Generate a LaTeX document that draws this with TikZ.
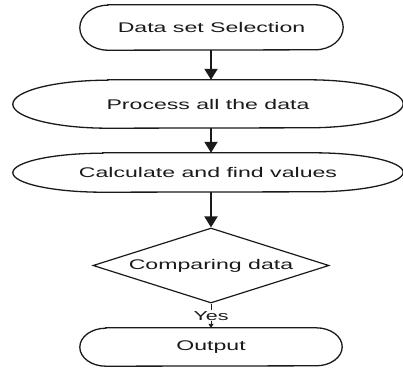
\documentclass[tikz,border=0pt]{standalone}
\usepackage{fontspec}
\usetikzlibrary{arrows.meta,shapes.geometric}
\newfontfamily\labelfont[FakeStretch=1.65]{Liberation Sans}
\definecolor{ink}{HTML}{1A1A1A}

% terminator outline: straight top and bottom, elliptical ends
\newcommand\stadium[3]{%
  \draw[outline] ([xshift=#2]#1.north west) -- ([xshift=-#2]#1.north east)
    arc[start angle=90,end angle=-90,x radius=#2,y radius=#3]
    -- ([xshift=#2]#1.south west)
    arc[start angle=270,end angle=90,x radius=#2,y radius=#3] -- cycle;}

\begin{document}
\begin{tikzpicture}[x=1pt,y=1pt,
  outline/.style={draw=ink,line width=1.3pt},
  term/.style={rectangle,inner sep=0pt,text=ink,font=\labelfont\fontsize{14}{16}\selectfont},
  decision/.style={diamond,aspect=3.15,draw=ink,line width=1.2pt,inner sep=0pt,text=ink,
    font=\labelfont\fontsize{14}{16}\selectfont},
  flow/.style={draw=ink,line width=2pt,-{Triangle[width=13pt,length=11pt]}},
  thin flow/.style={draw=ink,line width=0.9pt,-{Triangle[width=5pt,length=4pt]}}]
\useasboundingbox (0,0) rectangle (403,-369);

\node[term,minimum width=263,minimum height=45] (sel) at (211.5,-27.5) {Data set Selection};
\node[term,minimum width=390,minimum height=48] (proc) at (208,-104) {Process all the data};
\node[term,minimum width=390,minimum height=39] (calc) at (208,-172.5) {Calculate and find values};
\node[decision,minimum width=236,minimum height=75] (cmp) at (211,-265.5) {Comparing data};
\node[term,minimum width=262,minimum height=38] (out) at (211,-347) {Output};

\stadium{sel}{28}{22.5}
\stadium{proc}{95}{24}
\stadium{calc}{90}{19.5}
\stadium{out}{26}{19}

\draw[flow] (sel.south -| cmp.north) -- (proc.north -| cmp.north);
\draw[flow] (proc.south -| cmp.north) -- (calc.north -| cmp.north);
\draw[flow] (calc.south -| cmp.north) -- (cmp.north);
\draw[thin flow] (cmp.south) -- node[fill=white,inner sep=1pt,text=ink,
  font=\labelfont\fontsize{13}{15}\selectfont] {Yes} (out.north);
\end{tikzpicture}
\end{document}
